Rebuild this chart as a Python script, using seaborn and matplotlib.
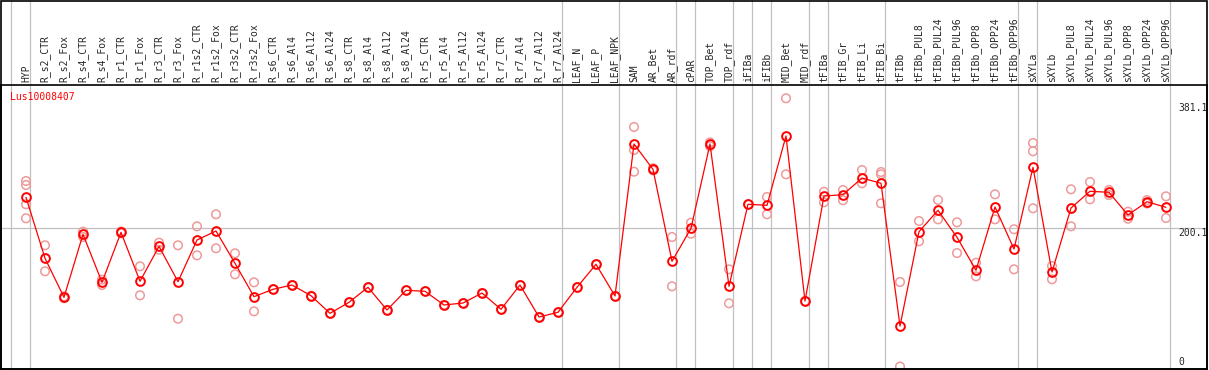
#!/usr/bin/env python3
import matplotlib
matplotlib.use('Agg')
import matplotlib.pyplot as plt
import matplotlib.transforms as mtransforms
from matplotlib.patches import Rectangle
import pandas as pd
import seaborn as sns

GENE = 'Lus10008407'

SAMPLES = [
    'HYP', 'R_s2_CTR', 'R_s2_Fox', 'R_s4_CTR', 'R_s4_Fox', 'R_r1_CTR', 'R_r1_Fox',
    'R_r3_CTR', 'R_r3_Fox', 'R_r1s2_CTR', 'R_r1s2_Fox', 'R_r3s2_CTR', 'R_r3s2_Fox',
    'R_s6_CTR', 'R_s6_Al4', 'R_s6_Al12', 'R_s6_Al24', 'R_s8_CTR', 'R_s8_Al4',
    'R_s8_Al12', 'R_s8_Al24', 'R_r5_CTR', 'R_r5_Al4', 'R_r5_Al12', 'R_r5_Al24',
    'R_r7_CTR', 'R_r7_Al4', 'R_r7_Al12', 'R_r7_Al24', 'LEAF_N', 'LEAF_P', 'LEAF_NPK',
    'SAM', 'AR_Bet', 'AR_rdf', 'cPAR', 'TOP_Bet', 'TOP_rdf', 'iFIBa', 'iFIBb',
    'MID_Bet', 'MID_rdf', 'tFIBa', 'tFIB_Gr', 'tFIB_Li', 'tFIB_Bi', 'tFIBb',
    'tFIBb_PUL8', 'tFIBb_PUL24', 'tFIBb_PUL96', 'tFIBb_OPP8', 'tFIBb_OPP24', 'tFIBb_OPP96',
    'sXYLa', 'sXYLb', 'sXYLb_PUL8', 'sXYLb_PUL24', 'sXYLb_PUL96', 'sXYLb_OPP8',
    'sXYLb_OPP24', 'sXYLb_OPP96',
]

MEANS = [
    245.0, 156.7, 100.2, 191.4, 121.9, 194.3, 123.4, 174.0, 122.8, 183.2, 196.2, 149.4, 101.1,
    111.8, 118.0, 102.5, 77.0, 93.0, 114.7, 81.8, 110.3, 108.9, 89.1, 91.9, 106.4, 82.8,
    118.0, 71.7, 78.5, 114.7, 148.0, 102.1,
    322.2, 285.5, 152.3, 200.1, 322.2, 116.1, 234.9, 233.4, 333.8, 94.8, 246.9, 248.8,
    272.9, 265.3, 58.6,
    195.2, 226.2, 187.1, 139.3, 231.0, 170.1, 288.4, 136.8, 229.5, 253.7, 252.2, 219.4,
    238.6, 230.5,
]

REPLICATES = [
    [268.6, 262.8, 234.9, 214.6], [175.5, 137.9], [99.0, 101.4], [195.2, 187.6],
    [118.0, 125.8], [193.0, 195.6], [145.1, 103.1], [179.3, 169.1], [175.5, 69.2],
    [203.0, 161.0], [220.4, 171.2], [163.9, 133.5], [121.9, 79.9],
    [111.8], [118.0], [102.5], [77.0], [93.0], [114.7], [81.8], [110.3], [108.9],
    [89.1], [91.9], [106.4], [82.8], [118.0], [71.7], [78.5], [114.7], [148.0], [102.1],
    [346.8, 313.5, 282.1], [284.0, 287.0], [187.5, 116.1], [208.2, 192.3],
    [324.6, 318.9], [140.7, 91.5], [234.9], [245.4, 220.4], [388.4, 278.3], [94.8],
    [253.1, 237.8], [255.6, 240.7], [284.5, 265.3], [281.6, 278.3, 236.3], [122.4, 0.0],
    [210.7, 181.3], [241.1, 213.1], [208.8, 164.3], [150.3, 130.6], [249.3, 213.1],
    [198.7, 140.7], [323.6, 311.6, 229.1], [145.5, 126.3], [256.6, 203.0],
    [267.2, 242.1], [255.6, 248.3], [224.1, 214.0], [236.0, 241.0], [246.4, 215.0],
]

# last sample of each tissue group (-1 = left edge)
GROUP_ENDS = [-1, 0, 28, 31, 34, 35, 37, 38, 39, 41, 42, 45, 52, 53, 60]

Y_LABELS = [381.1, 200.1, 0]

W, H = 1209, 370
MONO = 'DejaVu Sans Mono'
GRID = '#c0c0c0'
PALE = '#ee9a9a'


def px_x(p):
    return p / W


def px_y(p):
    return 1 - p / H


def main():
    sns.set_style('white')
    fig = plt.figure(figsize=(W / 100, H / 100), dpi=100)
    ax = fig.add_axes([px_x(1), px_y(369), px_x(1206), (369 - 85) / H])

    pos = list(range(len(SAMPLES)))
    mean_df = pd.DataFrame({'pos': pos, 'value': MEANS})
    rep_df = pd.DataFrame({
        'pos': [i for i, r in enumerate(REPLICATES) for _ in r],
        'value': [v for r in REPLICATES for v in r],
    })

    # grid lines (vertical ones run through the label band too)
    ax.axhline(200.1, color=GRID, lw=0.9, zorder=0)
    blend = mtransforms.blended_transform_factory(ax.transData, fig.transFigure)
    for g in GROUP_ENDS:
        ax.plot([g + 0.23, g + 0.23], [0, 1], transform=blend, color=GRID, lw=0.9,
                clip_on=False, zorder=0)

    sns.scatterplot(data=rep_df, x='pos', y='value', ax=ax, marker='o', s=38,
                    facecolors='none', edgecolor=PALE, linewidth=1.1, zorder=2)
    sns.lineplot(data=mean_df, x='pos', y='value', ax=ax, color='red', lw=0.9,
                 marker='o', markersize=6.3, markerfacecolor='none',
                 markeredgecolor='red', markeredgewidth=1.4, zorder=3)

    ax.set_xlim(-1.316, 62.158)
    ax.set_ylim(-3.6, 407.6)
    ax.set_xlabel('')
    ax.set_ylabel('')
    ax.set_yticks([])
    ax.xaxis.tick_top()
    ax.set_xticks(pos)
    ax.set_xticklabels(SAMPLES, rotation=90, fontsize=7, family=MONO)
    ax.tick_params(axis='x', length=0, pad=2)
    for s in ax.spines.values():
        s.set_color('black')
        s.set_linewidth(1.2)

    # value labels on the right
    ytrans = mtransforms.blended_transform_factory(fig.transFigure, ax.transData)
    for v in Y_LABELS:
        ax.text(px_x(1178), v, f'{v}' if v else '0', transform=ytrans, fontsize=7,
                family=MONO, ha='left', va='top' if v else 'bottom')

    fig.text(px_x(10), px_y(97), GENE, color='red', fontsize=7, family=MONO,
             ha='left', va='center')

    # outer frame around whole picture
    fig.patches.append(Rectangle((px_x(1), px_y(369)), px_x(1206), (369 - 0.5) / H,
                                 transform=fig.transFigure, fill=False,
                                 edgecolor='black', lw=1.2))

    fig.savefig('out.png', dpi=100)


if __name__ == '__main__':
    main()
